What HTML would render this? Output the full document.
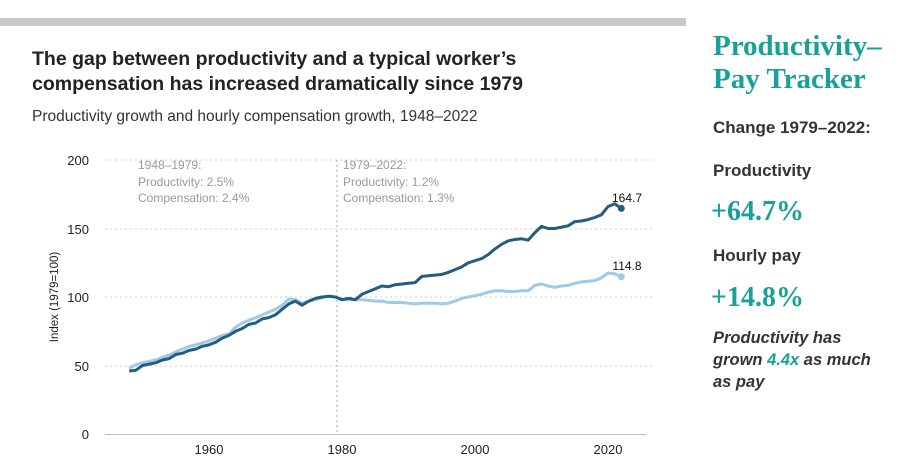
<!DOCTYPE html>
<html><head><meta charset="utf-8"><style>
body{margin:0;width:921px;height:465px;background:#fff;position:relative;overflow:hidden;font-family:"Liberation Sans",sans-serif}
.a{position:absolute;white-space:nowrap}
</style></head><body>
<div class="a" style="left:0;top:18px;width:686px;height:8px;background:#c8c8c8"></div>
<div class="a" style="left:32px;top:47px;font-size:19.5px;font-weight:bold;color:#222;line-height:25px">The gap between productivity and a typical worker’s<br>compensation has increased dramatically since 1979</div>
<div class="a" style="left:32px;top:108px;font-size:15.5px;color:#333">Productivity growth and hourly compensation growth, 1948–2022</div>
<svg class="a" style="left:0;top:0" width="690" height="465">
<g stroke="#ccc" stroke-dasharray="2,3" stroke-width="1">
<line x1="105" x2="652" y1="160" y2="160"/><line x1="105" x2="652" y1="229" y2="229"/><line x1="105" x2="652" y1="297" y2="297"/><line x1="105" x2="652" y1="366" y2="366"/>
<line x1="337" x2="337" y1="160" y2="434" stroke="#aaa"/>
</g>
<line x1="105" x2="646" y1="434.5" y2="434.5" stroke="#bbb"/>
<g font-size="13" fill="#222" text-anchor="end"><text x="89" y="165">200</text><text x="89" y="234">150</text><text x="89" y="302">100</text><text x="89" y="371">50</text><text x="89" y="439">0</text></g>
<g font-size="13" fill="#222" text-anchor="middle"><text x="209" y="454">1960</text><text x="342" y="454">1980</text><text x="475" y="454">2000</text><text x="608" y="454">2020</text></g>
<text transform="translate(58,297) rotate(-90)" font-size="11.5" text-anchor="middle" fill="#222">Index (1979=100)</text>
<g font-size="12" fill="#999"><text x="138" y="169">1948–1979:</text><text x="138" y="186">Productivity: 2.5%</text><text x="138" y="202">Compensation: 2.4%</text>
<text x="343" y="169">1979–2022:</text><text x="343" y="186">Productivity: 1.2%</text><text x="343" y="202">Compensation: 1.3%</text></g>
<g font-size="12" fill="#111" text-anchor="middle"><text x="627" y="202">164.7</text><text x="627" y="270">114.8</text></g>
<polyline id="c" fill="none" stroke="#9fcaea" stroke-width="3" stroke-linejoin="round"/>
<polyline id="p" fill="none" stroke="#245e7e" stroke-width="3" stroke-linejoin="round"/>
<circle id="pc" r="3.5" fill="#245e7e"/><circle id="cc" r="3.5" fill="#9fcaea"/>
</svg>
<div class="a" style="left:713px;top:30px;font-family:'Liberation Serif',serif;font-weight:bold;font-size:29px;line-height:33px;color:#18a09a">Productivity–<br>Pay Tracker</div>
<div class="a" style="left:713px;top:118px;font-size:17px;font-weight:bold;color:#333">Change 1979–2022:</div>
<div class="a" style="left:713px;top:161px;font-size:17px;font-weight:bold;color:#333">Productivity</div>
<div class="a" style="left:711px;top:196px;font-family:'Liberation Serif',serif;font-weight:bold;font-size:28px;color:#18a09a">+64.7%</div>
<div class="a" style="left:713px;top:246px;font-size:17px;font-weight:bold;color:#333">Hourly pay</div>
<div class="a" style="left:711px;top:282px;font-family:'Liberation Serif',serif;font-weight:bold;font-size:28px;color:#18a09a">+14.8%</div>
<div class="a" style="left:713px;top:327px;font-size:16.5px;font-weight:bold;font-style:italic;color:#333;line-height:22px">Productivity has<br>grown <span style="color:#18a09a">4.4x</span> as much<br>as pay</div>
<script>
function X(y){return 209+(y-1960)*6.65}function Y(v){return 434-v*1.37}
var P=[[1948,46],[1949,46.5],[1950,50],[1951,51],[1952,52],[1953,54],[1954,55],[1955,58],[1956,59],[1957,61],[1958,62],[1959,64],[1960,65],[1961,67],[1962,70],[1963,72],[1964,75],[1965,77],[1966,80],[1967,81],[1968,84],[1969,85],[1970,87],[1971,91],[1972,95],[1973,97],[1974,94],[1975,97],[1976,99],[1977,100],[1978,100.5],[1979,100],[1980,98],[1981,99],[1982,98],[1983,102],[1984,104],[1985,106],[1986,108],[1987,107.5],[1988,109],[1989,109.5],[1990,110],[1991,110.5],[1992,115],[1993,115.5],[1994,116],[1995,116.5],[1996,118],[1997,120],[1998,122],[1999,125],[2000,126.5],[2001,128],[2002,131],[2003,135],[2004,138.5],[2005,141],[2006,142],[2007,142.5],[2008,141.5],[2009,147],[2010,151.5],[2011,150],[2012,150],[2013,151],[2014,152],[2015,155],[2016,155.5],[2017,156.5],[2018,158],[2019,160],[2020,166],[2021,168],[2022,164.7]];
var C=[[1948,48],[1949,50.5],[1950,52],[1951,53],[1952,54],[1953,56],[1954,57.5],[1955,60],[1956,62],[1957,64],[1958,65],[1959,66.5],[1960,68],[1961,70],[1962,72],[1963,73],[1964,78],[1965,81],[1966,83],[1967,85],[1968,87],[1969,89],[1970,91],[1971,94],[1972,98.5],[1973,98],[1974,95.5],[1975,97],[1976,98],[1977,99.5],[1978,100.5],[1979,100],[1980,98],[1981,98],[1982,98],[1983,98],[1984,97.5],[1985,97],[1986,97],[1987,96],[1988,96],[1989,96],[1990,95.5],[1991,95],[1992,95.5],[1993,95.5],[1994,95.5],[1995,95],[1996,95.5],[1997,97],[1998,99],[1999,100],[2000,101],[2001,102],[2002,103.5],[2003,104.5],[2004,104.5],[2005,104],[2006,104],[2007,104.5],[2008,104.5],[2009,108.5],[2010,109.5],[2011,108],[2012,107],[2013,108],[2014,108.5],[2015,110],[2016,111],[2017,111.5],[2018,112],[2019,114],[2020,117.5],[2021,117],[2022,114.8]];
function s(a){return a.map(function(d){return X(d[0]).toFixed(1)+","+Y(d[1]).toFixed(1)}).join(" ")}
document.getElementById("p").setAttribute("points",s(P));document.getElementById("c").setAttribute("points",s(C));
var pc=document.getElementById("pc");pc.setAttribute("cx",X(2022));pc.setAttribute("cy",Y(164.7));
var cc=document.getElementById("cc");cc.setAttribute("cx",X(2022));cc.setAttribute("cy",Y(114.8));
</script>
</body></html>
